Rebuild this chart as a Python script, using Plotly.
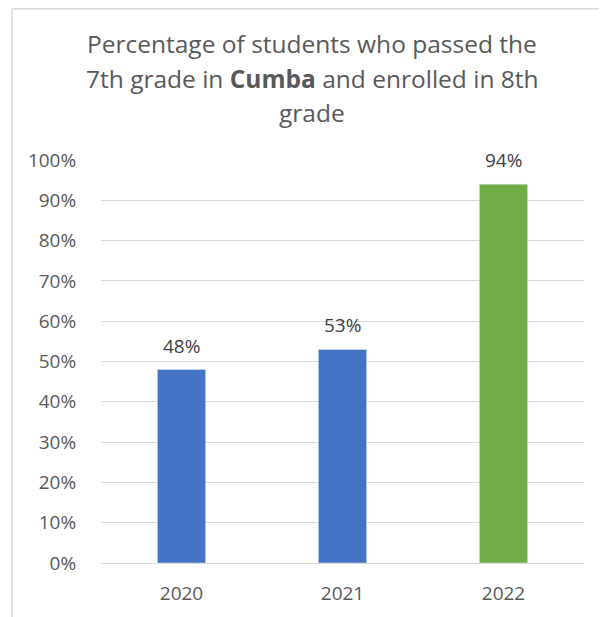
import plotly.graph_objects as go

years = ["2020", "2021", "2022"]
values = [0.48, 0.53, 0.94]
labels = ["48%", "53%", "94%"]
colors = ["#4472C4", "#4472C4", "#70AD47"]
y_ticks = [0, 0.1, 0.2, 0.3, 0.4, 0.5, 0.6, 0.7, 0.8, 0.9, 1.0]
title_lines = [
    "Percentage of students who passed the",
    "7th grade in <b>Cumba</b> and enrolled in 8th",
    "grade",
]

# page has an 8px body margin, so figure coordinates are page coords - 8
W, H = 599, 609
L, R, T, B = 93, 23, 152, 54
pw, ph = W - L - R, H - T - B

def px(x):
    return (x - L) / pw

def py(y):
    return (H - B - y) / ph

FONT = "Open Sans"
GREY = "#595959"

fig = go.Figure(go.Bar(
    x=years, y=values, marker_color=colors, width=0.3,
))

annotations = []
for i, line in enumerate(title_lines):
    annotations.append(dict(
        text=line, xref="paper", yref="paper", x=px(304), y=py(36 + 34 * i),
        xanchor="center", yanchor="middle", showarrow=False,
        font=dict(family=FONT, size=24.5, color=GREY),
    ))
# on a category axis, annotation x is the category index
for idx, (v, lab) in enumerate(zip(values, labels)):
    annotations.append(dict(
        text=lab, x=idx, y=v, xref="x", yref="y", yanchor="middle", yshift=24,
        showarrow=False, font=dict(family=FONT, size=19, color="#404040"),
    ))

fig.update_layout(
    width=W, height=H,
    margin=dict(l=L, r=R, t=T, b=B),
    paper_bgcolor="white", plot_bgcolor="white",
    showlegend=False,
    font=dict(family=FONT, color=GREY),
    annotations=annotations,
    xaxis=dict(type="category", categoryorder="array", categoryarray=years,
               range=[-0.5, len(years) - 0.5], autorange=False,
               tickfont=dict(size=19, color=GREY), showgrid=False,
               showline=True, linecolor="#d9d9d9", linewidth=1,
               ticks="outside", ticklen=13, tickcolor="rgba(0,0,0,0)"),
    yaxis=dict(range=[0, 1], autorange=False, tickvals=y_ticks, tickformat=".0%",
               tickfont=dict(size=19, color=GREY),
               showgrid=True, gridcolor="#d9d9d9", gridwidth=1,
               zeroline=False, ticks="outside", ticklen=20, tickcolor="rgba(0,0,0,0)"),
    shapes=[
        dict(type="line", xref="paper", yref="paper", x0=px(4), x1=px(4), y0=py(0.75), y1=py(H + 5),
             line=dict(color="#d9d9d9", width=1.5)),
        dict(type="line", xref="paper", yref="paper", x0=px(4), x1=px(W + 5), y0=py(0.75), y1=py(0.75),
             line=dict(color="#d9d9d9", width=1.5)),
    ],
)

fig.write_html("out.html")
